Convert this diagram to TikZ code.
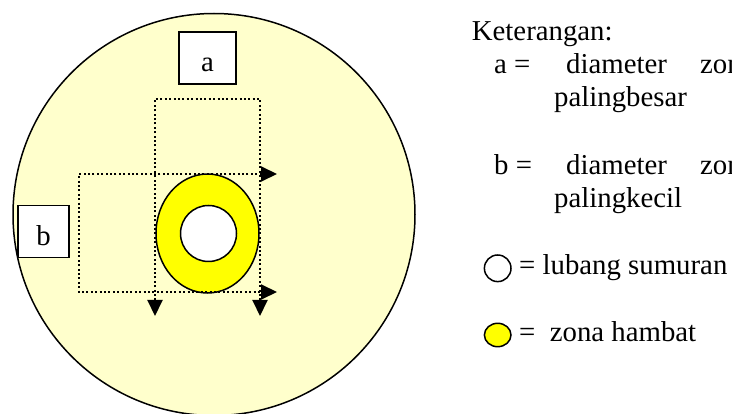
\documentclass[tikz,border=0pt]{standalone}
\usepackage{fontspec}
\setmainfont{Liberation Serif}
\usetikzlibrary{arrows.meta,shapes.geometric}

\definecolor{fieldyel}{HTML}{FFFFCC}
\definecolor{zoneyel}{HTML}{FFFF00}

\begin{document}
\begin{tikzpicture}[
  x=1pt,y=-1pt,
  txt/.style={inner sep=0pt,anchor=base west,font=\fontsize{28.8}{33}\selectfont},
  lblbox/.style={draw,fill=white,line width=1.3pt,inner sep=0pt,minimum height=52pt,text height=28pt,text depth=0pt,font=\fontsize{28.8}{33}\selectfont},
  dimline/.style={line width=2pt,dash pattern=on 2pt off 2.4pt,{Triangle[length=16pt,width=15pt]}-{Triangle[length=16pt,width=15pt]}},
  outl/.style={draw,line width=1.5pt,inner sep=0pt}
]
\useasboundingbox (0,0) rectangle (732,414);
\clip (0,0) rectangle (732,414);

% test field and inhibition zone
\node[outl,circle,fill=fieldyel,minimum size=402pt] (field) at (214,214.5) {};
\node[outl,ellipse,fill=zoneyel,minimum width=103pt,minimum height=119pt] (zone) at (207.5,233.5) {};
\node[outl,circle,fill=white,minimum size=56pt] (hole) at (208.5,233.5) {};

% diameter a
\coordinate (aTL) at (155,99);
\coordinate (aTR) at (260,99);
\coordinate (aBL) at (155,316);
\coordinate (aBR) at (260,316);
\draw[dimline] (aBL) -- (aTL) -- (aTR) -- (aBR);
% diameter b
\coordinate (bTL) at (79,174);
\coordinate (bBL) at (79,292);
\coordinate (bTR) at (277,174);
\coordinate (bBR) at (277,292);
\draw[dimline] (bTR) -- (bTL) -- (bBL) -- (bBR);

\node[lblbox,minimum width=57pt] (boxa) at (207.5,58) {a};
\node[lblbox,minimum width=51pt] (boxb) at (43.5,231.5) {b};

% legend
\node[txt] (ket) at (471.7,41) {Keterangan:};
\node[txt] (aeq) at (494,74) {a =};
\node[txt] (adiam) at (566,74) {diameter};
\node[txt] (azona) at (700,74) {zona};
\node[txt] (abesar) at (554,107) {palingbesar};
\node[txt] (beq) at (494,174.5) {b =};
\node[txt] (bdiam) at (566,174.5) {diameter};
\node[txt] (bzona) at (700,174.5) {zona};
\node[txt] (bkecil) at (554,207.5) {palingkecil};

\node[outl,circle,fill=white,minimum size=26.6pt] (keyhole) at (497.7,268.3) {};
\node[txt] (holetxt) at (519,275) {= lubang sumuran};
\node[outl,ellipse,fill=zoneyel,minimum width=26.6pt,minimum height=23.4pt] (keyzone) at (497.7,335) {};
\node[txt] (zonetxt) at (519,342) {= \ zona hambat};
\end{tikzpicture}
\end{document}
